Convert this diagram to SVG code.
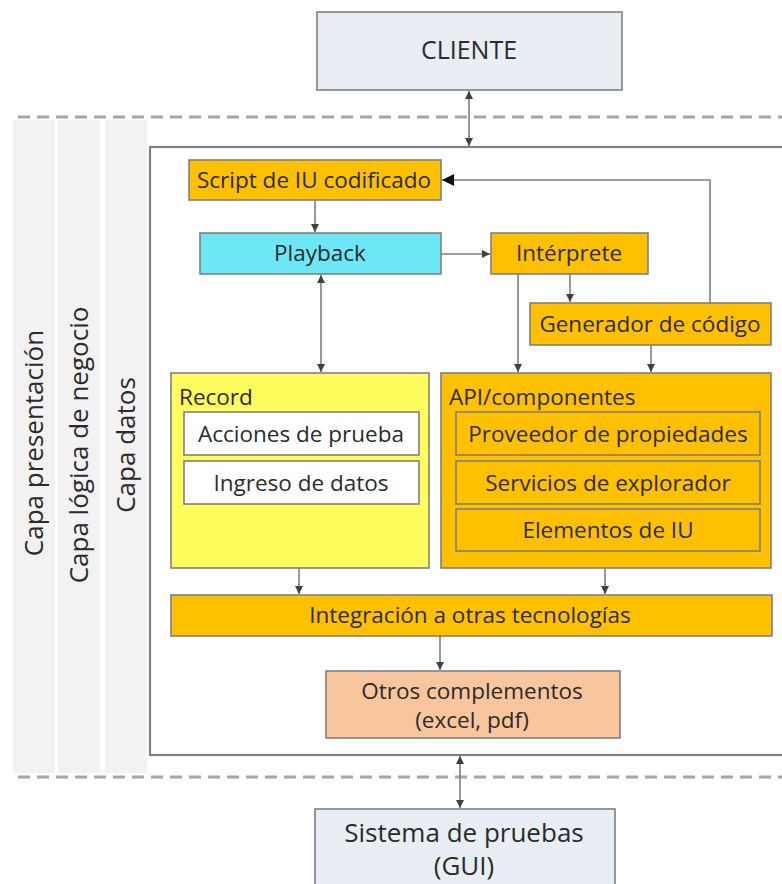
<svg xmlns="http://www.w3.org/2000/svg" width="782" height="884" viewBox="0 0 782 884">
  <style>
    text { font-family: "Open Sans", Lato, "Liberation Sans", sans-serif; fill: #2b2b2b; }
    .lbl { font-size: 22.5px; text-anchor: middle; }
    .side { font-size: 26px; text-anchor: middle; }
    .box { stroke: #7f7f7f; stroke-width: 1.6; }
    .ext { fill: #e9edf4; }
    .org { fill: #ffc000; }
    .cyan { fill: #6de6f5; }
    .yel { fill: #fdfd5e; }
    .wht { fill: #ffffff; }
    .peach { fill: #f8c59d; }
    .col { fill: #f2f2f2; }
    .dash { stroke: #a6a6a6; stroke-width: 3; stroke-dasharray: 12 7; fill: none; }
    .conn { stroke: #7f7f7f; stroke-width: 1.6; fill: none; }
  </style>
  <defs>
    <marker id="ah" viewBox="0 0 10 10" refX="10" refY="5" markerWidth="9" markerHeight="8" markerUnits="userSpaceOnUse" orient="auto-start-reverse">
      <path d="M0,0 L10,5 L0,10 z" fill="#404040"/>
    </marker>
    <marker id="ahBig" viewBox="0 0 10 10" refX="10" refY="5" markerWidth="14" markerHeight="12" markerUnits="userSpaceOnUse" orient="auto">
      <path d="M0,0 L10,5 L0,10 z" fill="#111111"/>
    </marker>
  </defs>

  <!-- layer bands -->
  <g id="layers">
    <rect class="col" x="13" y="120" width="42" height="653"/>
    <rect class="col" x="58" y="120" width="42" height="653"/>
    <rect class="col" x="105" y="120" width="42" height="653"/>
    <text class="side" transform="translate(43,443) rotate(-90)">Capa presentación</text>
    <text class="side" transform="translate(88,445) rotate(-90)">Capa lógica de negocio</text>
    <text class="side" transform="translate(135,445) rotate(-90)">Capa datos</text>
  </g>

  <line class="dash" x1="18" y1="117" x2="782" y2="117"/>
  <line class="dash" x1="18" y1="777" x2="782" y2="777"/>

  <!-- application container -->
  <rect x="150" y="147" width="640" height="608" fill="#ffffff" stroke="#7f7f7f" stroke-width="2.2"/>

  <g id="cliente">
    <rect class="box ext" x="317" y="12" width="305" height="78"/>
    <text class="lbl" style="font-size:25px" x="469" y="59">CLIENTE</text>
  </g>

  <g id="script">
    <rect class="box org" x="189" y="160" width="252" height="40"/>
    <text class="lbl" x="314" y="188">Script de IU codificado</text>
  </g>

  <g id="playback">
    <rect class="box cyan" x="200" y="233" width="241" height="41"/>
    <text class="lbl" x="320" y="261">Playback</text>
  </g>

  <g id="interprete">
    <rect class="box org" x="491" y="233" width="157" height="41"/>
    <text class="lbl" x="569" y="261">Intérprete</text>
  </g>

  <g id="generador">
    <rect class="box org" x="530" y="303" width="241" height="42"/>
    <text class="lbl" x="650" y="332">Generador de código</text>
  </g>

  <g id="record">
    <rect class="box yel" x="171" y="373" width="258" height="195"/>
    <text x="179" y="405" style="font-size:22.5px">Record</text>
    <rect class="box wht" x="184" y="412" width="235" height="43"/>
    <text class="lbl" x="301" y="442">Acciones de prueba</text>
    <rect class="box wht" x="184" y="461" width="235" height="43"/>
    <text class="lbl" x="301" y="491">Ingreso de datos</text>
  </g>

  <g id="api">
    <rect class="box org" x="441" y="373" width="330" height="195"/>
    <text x="449" y="405" style="font-size:22.5px">API/componentes</text>
    <rect class="box org" x="456" y="412" width="304" height="43"/>
    <text class="lbl" x="608" y="442">Proveedor de propiedades</text>
    <rect class="box org" x="456" y="461" width="304" height="43"/>
    <text class="lbl" x="608" y="491">Servicios de explorador</text>
    <rect class="box org" x="456" y="509" width="304" height="42"/>
    <text class="lbl" x="608" y="538">Elementos de IU</text>
  </g>

  <g id="integracion">
    <rect class="box org" x="171" y="595" width="601" height="41"/>
    <text class="lbl" x="470" y="623">Integración a otras tecnologías</text>
  </g>

  <g id="otros">
    <rect class="box peach" x="326" y="671" width="294" height="67"/>
    <text class="lbl" x="472" y="699">Otros complementos</text>
    <text class="lbl" x="472" y="728">(excel, pdf)</text>
  </g>

  <g id="sistema">
    <rect class="box ext" x="315" y="809" width="300" height="90"/>
    <text class="lbl" style="font-size:26px" x="464" y="842">Sistema de pruebas</text>
    <text class="lbl" style="font-size:26px" x="464" y="875">(GUI)</text>
  </g>

  <g id="connectors">
    <line class="conn" x1="469" y1="91" x2="469" y2="146" marker-start="url(#ah)" marker-end="url(#ah)"/>
    <line class="conn" x1="315" y1="200" x2="315" y2="232" marker-end="url(#ah)"/>
    <line class="conn" x1="441" y1="254" x2="490" y2="254" marker-end="url(#ah)"/>
    <line class="conn" x1="321" y1="275" x2="321" y2="372" marker-start="url(#ah)" marker-end="url(#ah)"/>
    <line class="conn" x1="518" y1="274" x2="518" y2="372" marker-end="url(#ah)"/>
    <line class="conn" x1="570" y1="274" x2="570" y2="302" marker-end="url(#ah)"/>
    <line class="conn" x1="651" y1="345" x2="651" y2="372" marker-end="url(#ah)"/>
    <polyline class="conn" points="710,303 710,180 442,180" marker-end="url(#ahBig)"/>
    <line class="conn" x1="299" y1="568" x2="299" y2="594" marker-end="url(#ah)"/>
    <line class="conn" x1="605" y1="568" x2="605" y2="594" marker-end="url(#ah)"/>
    <line class="conn" x1="440" y1="636" x2="440" y2="670" marker-end="url(#ah)"/>
    <line class="conn" x1="460" y1="756" x2="460" y2="808" marker-start="url(#ah)" marker-end="url(#ah)"/>
  </g>
</svg>
